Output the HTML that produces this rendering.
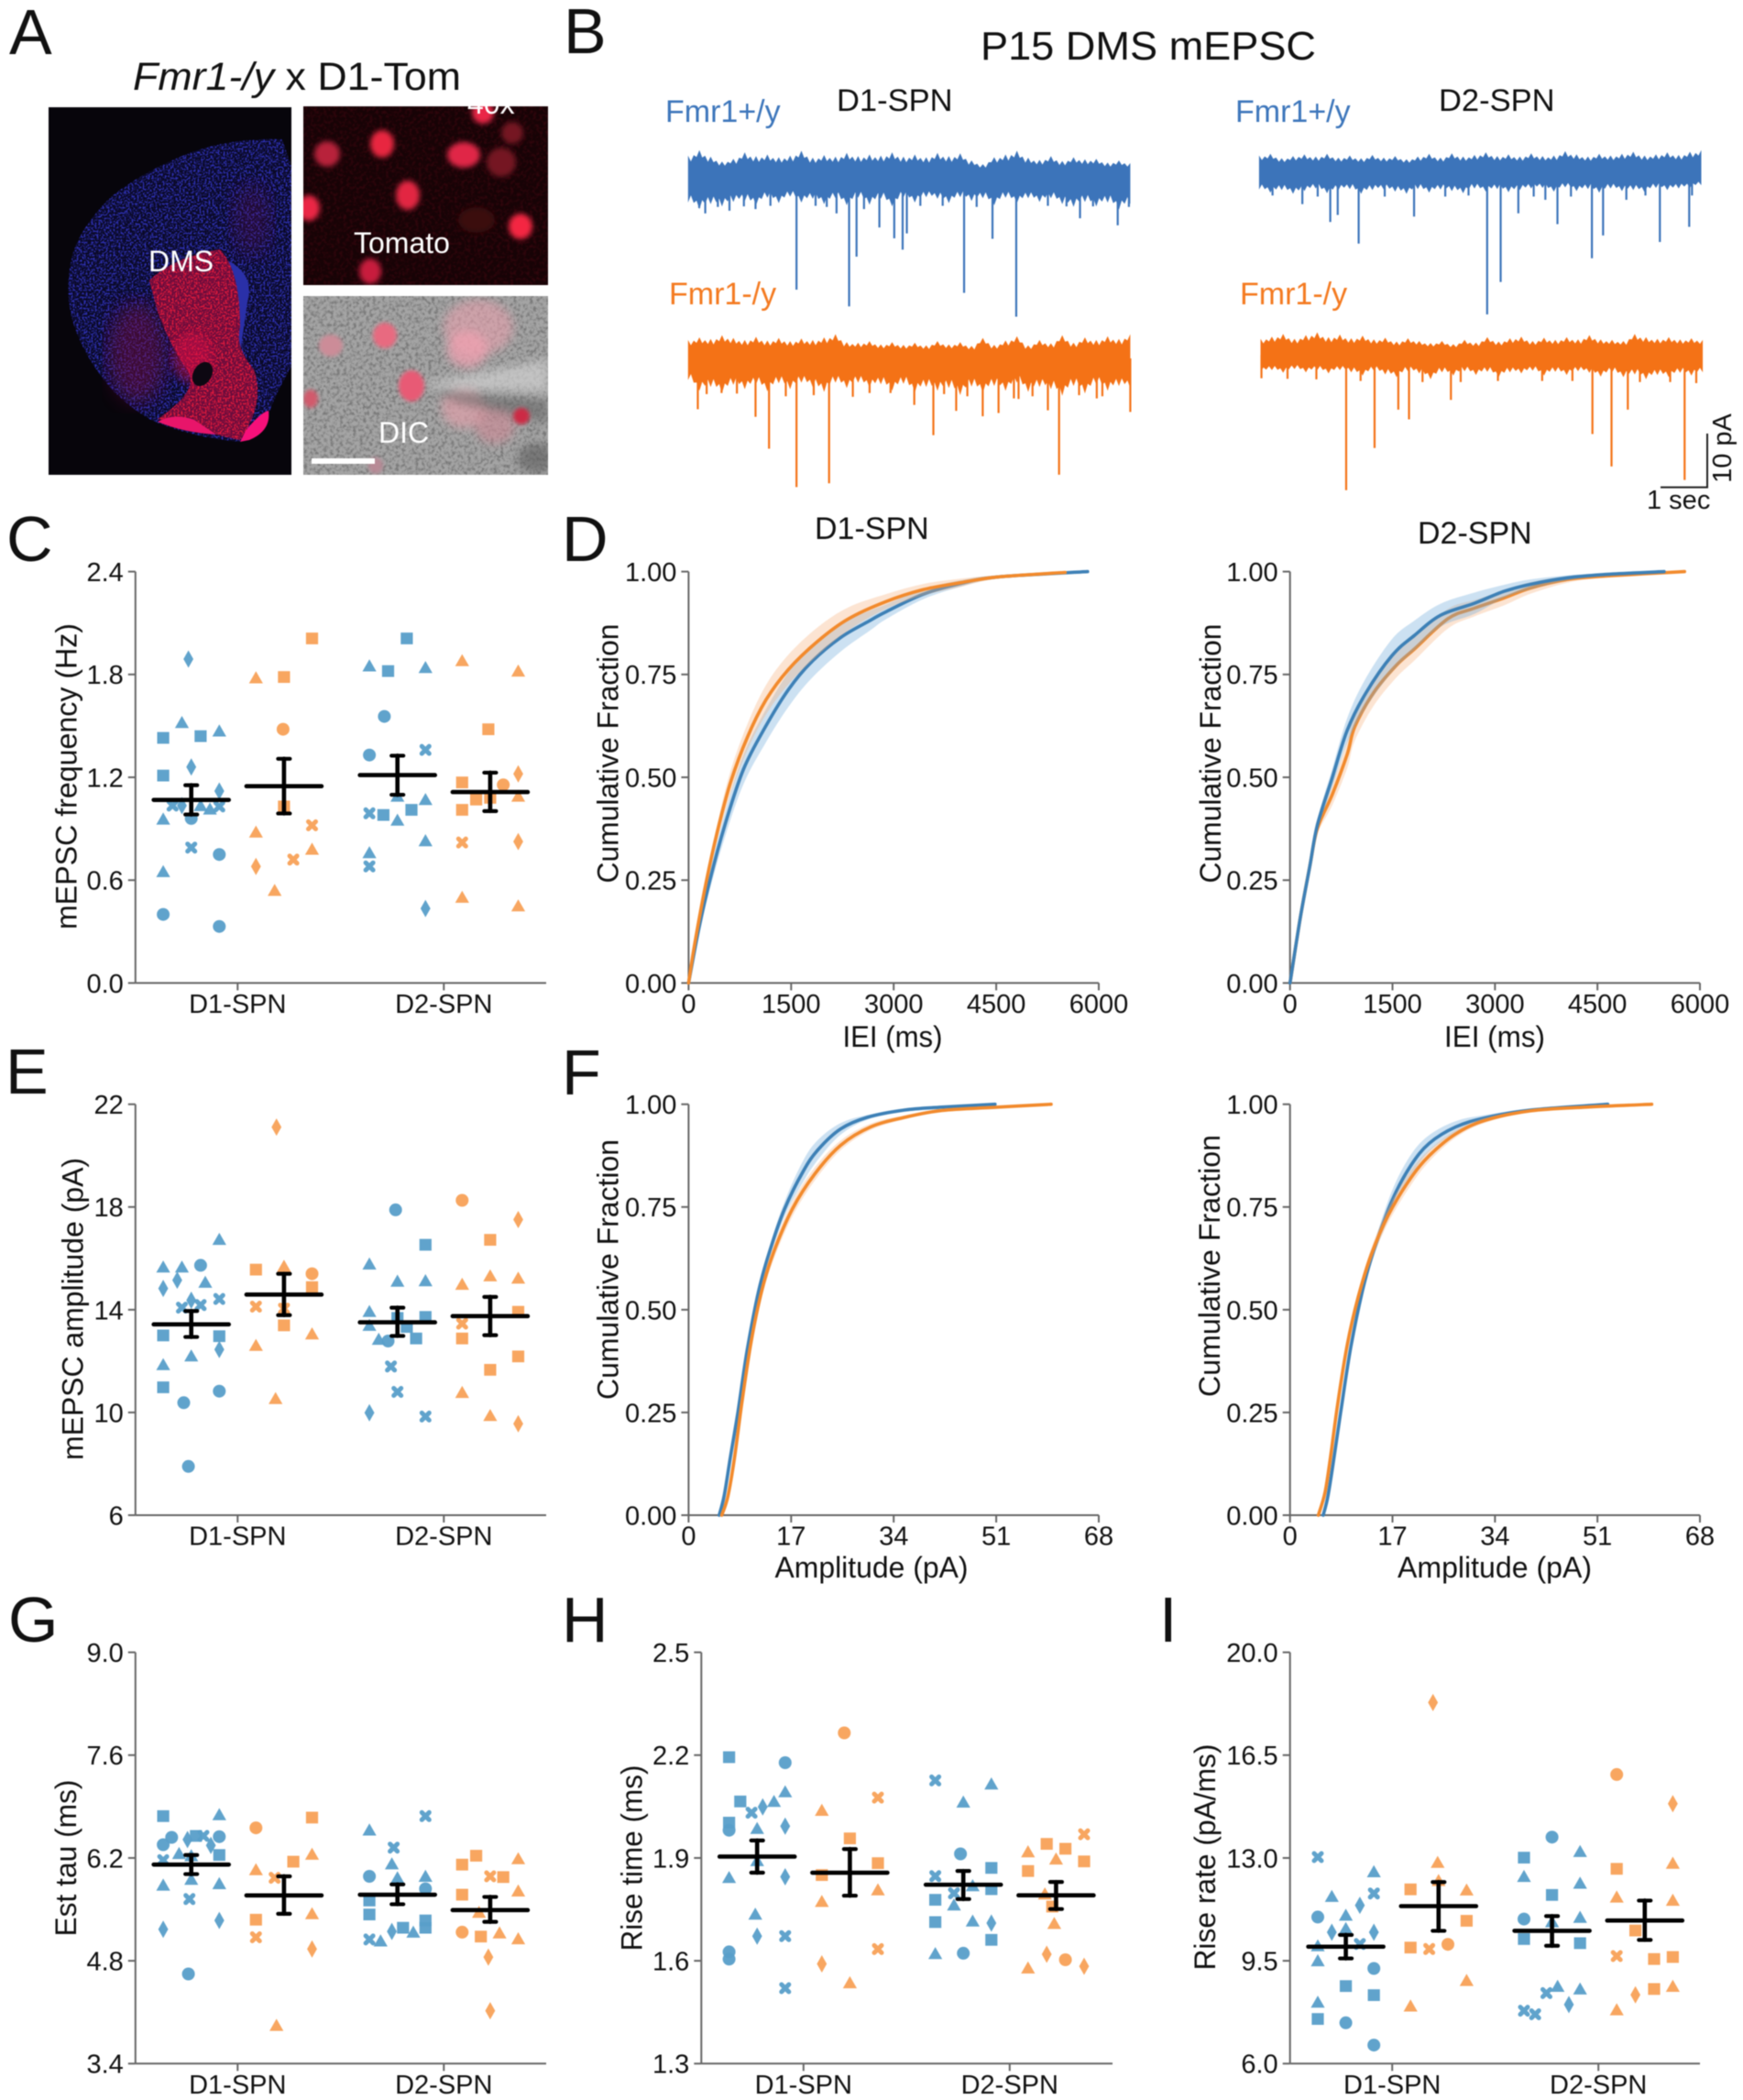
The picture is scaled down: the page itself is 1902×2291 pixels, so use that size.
<!DOCTYPE html>
<html lang="en">
<head>
<meta charset="utf-8">
<title>P15 DMS mEPSC figure</title>
<style>
html,body{margin:0;padding:0;background:#fff;}
#figure{display:block;width:1902px;height:2291px;font-family:"Liberation Sans",Arial,sans-serif;filter:blur(0.45px);}
text{font-family:"Liberation Sans",Arial,sans-serif;fill:#111;}
</style>
</head>
<body>
<svg id="figure" xmlns="http://www.w3.org/2000/svg" width="1902" height="2291" viewBox="0 0 1902 2291">
<defs>
<filter id="speck" x="0" y="0" width="100%" height="100%" color-interpolation-filters="sRGB">
<feTurbulence type="fractalNoise" baseFrequency="0.5" numOctaves="2" seed="4" result="n"/>
<feColorMatrix in="n" type="matrix" values="0 0 0 0 0  0 0 0 0 0  0 0 0 0 0  7 0 0 0 -3.4" result="a"/>
<feComposite in="SourceGraphic" in2="a" operator="in"/>
</filter>
<filter id="grain" x="0" y="0" width="100%" height="100%" color-interpolation-filters="sRGB">
<feTurbulence type="fractalNoise" baseFrequency="0.28" numOctaves="3" seed="9" result="n"/>
<feColorMatrix in="n" type="matrix" values="0 0 0 0 0  0 0 0 0 0  0 0 0 0 0  3 0 0 0 -1.3" result="a"/>
<feComposite in="SourceGraphic" in2="a" operator="in"/>
</filter>
<filter id="soft2"><feGaussianBlur stdDeviation="2"/></filter>
<filter id="soft3"><feGaussianBlur stdDeviation="3"/></filter>
<filter id="soft4"><feGaussianBlur stdDeviation="5"/></filter>
<filter id="soft10"><feGaussianBlur stdDeviation="10"/></filter>
<clipPath id="clip-section"><rect x="53" y="117" width="265" height="401"/></clipPath>
<clipPath id="clip-tomato"><rect x="331" y="116" width="267" height="195"/></clipPath>
<clipPath id="clip-dic"><rect x="331" y="323" width="267" height="195"/></clipPath>
</defs>

<g>
<text x="10" y="59" font-size="70">A</text>
<text x="615" y="58" font-size="70">B</text>
<text x="7" y="612" font-size="70">C</text>
<text x="613" y="612" font-size="70">D</text>
<text x="6" y="1193" font-size="70">E</text>
<text x="613" y="1194" font-size="70">F</text>
<text x="9" y="1791" font-size="70">G</text>
<text x="613" y="1791" font-size="70">H</text>
<text x="1265" y="1791" font-size="70">I</text>
</g>

<text x="145" y="98" font-size="43" textLength="358" lengthAdjust="spacingAndGlyphs"><tspan font-style="italic">Fmr1-/y</tspan> x D1-Tom</text>

<g clip-path="url(#clip-section)">
<rect x="53" y="117" width="265" height="401" fill="#07050b"/>
<path d="M308 152 Q250 150 204 168 Q155 188 122 214 Q90 245 80 275 Q70 310 78 345 Q88 385 122 425 Q150 452 171 461 Q215 478 261 482 Q285 478 292 455 Q300 430 318 400 L318 182 Z" fill="#0a0926"/>
<path d="M308 152 Q250 150 204 168 Q155 188 122 214 Q90 245 80 275 Q70 310 78 345 Q88 385 122 425 Q150 452 171 461 Q215 478 261 482 Q285 478 292 455 Q300 430 318 400 L318 182 Z" fill="#2d30b0" filter="url(#speck)"/>
<ellipse cx="150" cy="385" rx="32" ry="55" fill="#7a1040" opacity="0.45" filter="url(#soft10)"/>
<ellipse cx="275" cy="240" rx="22" ry="40" fill="#5a1050" opacity="0.3" filter="url(#soft10)"/>
<path d="M250 285 Q278 300 270 330 L262 385 L255 380 Q268 320 240 290 Z" fill="#2a30a8"/>
<path d="M163 306 Q190 280 240 272 Q262 295 262 357 Q256 378 277 403 Q290 440 262 480 Q215 470 172 457 Q220 425 204 403 Q186 378 172 340 Z" fill="#6a0c3c"/>
<path d="M163 306 Q190 280 240 272 Q262 295 262 357 Q256 378 277 403 Q290 440 262 480 Q215 470 172 457 Q220 425 204 403 Q186 378 172 340 Z" fill="#e01a3c" filter="url(#speck)"/>
<ellipse cx="210" cy="390" rx="22" ry="28" fill="#d8104a" opacity="0.45" filter="url(#soft4)"/>
<ellipse cx="221" cy="408" rx="10" ry="14" fill="#0d0812" transform="rotate(30 221 408)"/>
<path d="M172 460 Q190 450 212 458 L236 474 Q200 472 172 460 Z" fill="#e8156a"/>
<path d="M262 482 L268 470 Q284 450 293 448 Q296 470 272 480 Z" fill="#f6107a"/>
</g>

<g clip-path="url(#clip-tomato)">
<rect x="331" y="116" width="267" height="195" fill="#170306"/>
<rect x="331" y="116" width="267" height="195" fill="#4a0812" filter="url(#grain)" opacity=".5"/>
<g filter="url(#soft3)">
<ellipse cx="417" cy="157" rx="13" ry="15" fill="#e8283f"/>
<ellipse cx="357" cy="168" rx="14" ry="14" fill="#b8203a"/>
<ellipse cx="506" cy="169" rx="18" ry="14" fill="#e02846"/>
<ellipse cx="547" cy="177" rx="16" ry="16" fill="#741622"/>
<ellipse cx="559" cy="145" rx="12" ry="12" fill="#741622"/>
<ellipse cx="527" cy="123" rx="12" ry="12" fill="#ea2646"/>
<ellipse cx="445" cy="213" rx="13" ry="16" fill="#e22842"/>
<ellipse cx="337" cy="227" rx="12" ry="14" fill="#ea2844"/>
<ellipse cx="568" cy="247" rx="13" ry="14" fill="#f42842"/>
<ellipse cx="404" cy="296" rx="12" ry="14" fill="#c81f3c"/>
<ellipse cx="520" cy="240" rx="20" ry="14" fill="#3a0810"/>
</g>
<text x="510" y="124" font-size="32" style="fill:#fff">40x</text>
</g>
<text x="386" y="276" font-size="32" style="fill:#fff">Tomato</text>

<g clip-path="url(#clip-dic)">
<rect x="331" y="323" width="267" height="195" fill="#a4a4a4"/>
<rect x="331" y="323" width="267" height="195" fill="#666666" filter="url(#grain)" opacity=".7"/>
<g filter="url(#soft4)">
<ellipse cx="522" cy="357" rx="38" ry="30" fill="#e8a0ae" opacity=".6"/>
<ellipse cx="510" cy="381" rx="22" ry="20" fill="#f0a0b0" opacity=".75"/>
<ellipse cx="506" cy="445" rx="24" ry="22" fill="#e0a0aa" opacity=".7"/>
<ellipse cx="540" cy="464" rx="22" ry="20" fill="#d08a96" opacity=".6"/>
<polygon points="465,418 598,392 598,428 470,424" fill="#d0d0d0" opacity=".7"/>
<polygon points="465,424 598,436 598,462 500,440" fill="#686868" opacity=".6"/>
<ellipse cx="585" cy="500" rx="20" ry="16" fill="#5a5a5a" opacity=".6"/>
</g>
<g filter="url(#soft2)">
<ellipse cx="420" cy="366" rx="13" ry="14" fill="#e86a80"/>
<ellipse cx="361" cy="377" rx="13" ry="12" fill="#cc8c98"/>
<ellipse cx="449" cy="421" rx="14" ry="17" fill="#e85a74"/>
<ellipse cx="339" cy="435" rx="8" ry="10" fill="#d25a6c"/>
<ellipse cx="569" cy="454" rx="9" ry="9" fill="#cc2c44"/>
<ellipse cx="410" cy="508" rx="8" ry="9" fill="#b88a96"/>
</g>
<rect x="340" y="500" width="69" height="6" fill="#fff"/>
</g>
<text x="413" y="483" font-size="32" style="fill:#fff">DIC</text>
<text x="162" y="296" font-size="32" style="fill:#fff">DMS</text>

<text x="1070" y="65" font-size="44" textLength="366" lengthAdjust="spacingAndGlyphs">P15 DMS mEPSC</text>
<text x="913" y="121" font-size="34.5">D1-SPN</text>
<text x="1570" y="121" font-size="34.5">D2-SPN</text>
<text x="726" y="133" font-size="34" style="fill:#3d76bb">Fmr1+/y</text>
<text x="1348" y="133" font-size="34" style="fill:#3d76bb">Fmr1+/y</text>
<text x="730" y="332" font-size="34" style="fill:#f47a20">Fmr1-/y</text>
<text x="1353" y="332" font-size="34" style="fill:#f47a20">Fmr1-/y</text>
<text x="1797" y="555" font-size="29">1 sec</text>
<text transform="translate(1889 489) rotate(-90)" text-anchor="middle" font-size="29">10 pA</text>
<text x="889" y="588" font-size="34">D1-SPN</text>
<text x="1547" y="593" font-size="34">D2-SPN</text>
</svg>

<script>
/* ---------- shared categories ---------- */
const stripCategories = ['D1-SPN', 'D2-SPN'];
const genotypes = ['wt', 'ko'];

/* ---------- panel C: mEPSC frequency ([marker, jitter, value]) ---------- */
const freqTicks = [0, 0.6, 1.2, 1.8, 2.4];
const freqLabels = ['0.0', '0.6', '1.2', '1.8', '2.4'];
const freqD1Wt = [['d',-0.3,1.89],['t',-1,1.52],['s',-3,1.43],['s',1,1.44],['t',3,1.47],['d',0,1.26],['s',-3,1.21],['d',3,1.12],['x',-2,1.035],['d',-1,1.035],['t',1,1.035],['t',2,1.015],['x',3,1.03],['t',-3,0.956],['c',0,0.96],['x',0,0.79],['c',3,0.75],['t',-3,0.65],['c',-3,0.40],['c',3,0.33]];
const freqD1Ko = [['s',3,2.01],['s',0,1.785],['t',-3,1.78],['c',-0.1,1.48],['s',0,1.03],['x',3,0.92],['t',-3,0.88],['t',3,0.78],['x',1,0.72],['d',-3,0.68],['t',-1,0.54]];
const freqD2Wt = [['s',1,2.01],['t',-3,1.85],['t',3,1.84],['s',-1,1.82],['c',-1.4,1.555],['x',3,1.36],['c',-3,1.33],['t',0,1.09],['t',3,1.07],['x',-3,0.99],['s',-1.5,0.98],['s',1.5,1.01],['t',0,0.95],['t',3,0.83],['t',-3,0.76],['x',-3,0.68],['d',3,0.435]];
const freqD2Ko = [['t',-3,1.88],['t',3,1.82],['s',-0.2,1.48],['d',3,1.22],['s',-3,1.17],['c',1.4,1.156],['s',-1.5,1.07],['s',0,1.08],['t',3,1.09],['s',-3,1.01],['x',-3,0.82],['d',3,0.825],['t',-3,0.50],['t',3,0.45]];
const freqMeans = [1.068, 1.148, 1.213, 1.114];
const freqUpper = [1.154, 1.308, 1.326, 1.227];
const freqLower = [0.983, 0.989, 1.098, 1.003];

/* ---------- panel E: mEPSC amplitude ---------- */
const ampTicks = [6, 10, 14, 18, 22];
const ampLabels = ['6', '10', '14', '18', '22'];
const ampD1Wt = [['t',3,16.74],['t',-3,15.66],['t',-1,15.66],['c',1,15.73],['d',-1.5,15.15],['t',1.5,15.07],['d',-3,14.83],['d',0,14.37],['x',3,14.42],['x',1,14.18],['x',-1,14.08],['s',-3,13.0],['s',3,12.97],['d',3,12.45],['t',0,12.2],['t',-3,11.86],['s',-3,10.98],['c',3,10.83],['c',-0.8,10.38],['c',-0.3,7.9]];
const ampD1Ko = [['d',-0.8,21.11],['s',-3,15.56],['t',0,15.69],['c',3,15.4],['s',3,14.88],['x',-3,14.12],['x',0,14.04],['s',0,13.39],['t',3,13.06],['t',-3,12.61],['t',-0.9,10.54]];
const ampD2Wt = [['c',-0.2,17.89],['s',3,16.53],['t',-3,15.78],['t',0,15.11],['t',3,15.13],['t',-3,13.93],['s',3,13.72],['s',0,13.68],['t',-3,13.39],['s',1,13.33],['t',-2,12.85],['c',-1,12.78],['s',2,12.88],['x',-0.7,11.79],['x',0,10.8],['d',-3,9.99],['x',3,9.84]];
const ampD2Ko = [['c',-3,18.26],['d',3,17.51],['s',0,16.72],['t',0,15.32],['t',3,15.23],['t',-3,14.99],['s',3,13.92],['x',-3,13.46],['s',-3,12.88],['s',3,12.18],['s',0,11.66],['t',-3,10.78],['t',0,9.88],['d',3,9.56]];
const ampMeans = [13.43, 14.59, 13.51, 13.75];
const ampUpper = [13.95, 15.4, 14.08, 14.5];
const ampLower = [12.94, 13.79, 12.98, 13.01];

/* ---------- panel G: estimated tau ---------- */
const tauTicks = [3.4, 4.8, 6.2, 7.6, 9.0];
const tauLabels = ['3.4', '4.8', '6.2', '7.6', '9.0'];
const tauD1Wt = [['s',-3,6.77],['t',3,6.79],['s',0.5,6.5],['x',1.3,6.5],['c',-2.1,6.48],['c',3,6.49],['d',-0.4,6.45],['c',-3,6.38],['d',2.1,6.37],['t',-1.3,6.26],['s',3,6.24],['t',0,6.23],['x',-3,6.17],['t',0,5.91],['t',-3,5.83],['t',3,5.85],['x',-0.2,5.64],['d',3,5.35],['d',-3,5.23],['c',-0.3,4.62]];
const tauD1Ko = [['s',3,6.75],['c',-3,6.61],['t',3,6.25],['s',1,6.15],['t',-3,6.04],['x',-1,5.93],['t',3,5.44],['s',-3,5.36],['x',-3,5.12],['d',3,4.96],['t',-0.8,3.92]];
const tauD2Wt = [['x',3,6.77],['t',-3,6.58],['x',-0.4,6.34],['t',-0.6,6.12],['c',-3,5.95],['t',0,5.93],['t',3,5.95],['c',3,5.78],['s',-3,5.62],['s',-3,5.43],['s',3,5.35],['s',3,5.25],['s',0.6,5.25],['d',-0.6,5.2],['t',1.7,5.19],['x',-3,5.09],['t',-1.8,5.07]];
const tauD2Ko = [['t',3,6.19],['s',-1.5,6.23],['s',-3,6.11],['x',0,5.95],['s',1.4,5.94],['t',3,5.75],['s',-3,5.7],['t',-1.2,5.46],['c',-3,5.19],['t',1,5.18],['s',-1,5.13],['t',3,5.1],['d',-0.2,4.85],['d',0,4.12]];
const tauMeans = [6.11, 5.69, 5.70, 5.49];
const tauUpper = [6.24, 5.95, 5.84, 5.67];
const tauLower = [5.98, 5.44, 5.57, 5.33];

/* ---------- panel H: rise time ---------- */
const riseTicks = [1.3, 1.6, 1.9, 2.2, 2.5];
const riseLabels = ['1.3', '1.6', '1.9', '2.2', '2.5'];
const riseD1Wt = [['s',-3,2.194],['c',3,2.178],['t',3,2.093],['s',-1.8,2.065],['t',1.8,2.065],['d',0.6,2.049],['x',-0.6,2.032],['s',-3,2.003],['c',-3,1.981],['t',0,1.986],['d',3,1.993],['t',0,1.892],['t',-3,1.843],['d',3,1.845],['t',-0.2,1.736],['d',0,1.672],['x',3,1.672],['c',-3,1.626],['c',-3,1.605],['x',3,1.52]];
const riseD1Ko = [['c',-0.6,2.265],['x',3,2.076],['t',-3,2.039],['s',0,1.957],['s',3,1.885],['s',-3,1.85],['t',3,1.807],['t',-3,1.773],['x',3,1.634],['d',-3,1.591],['t',0,1.536]];
const riseD2Wt = [['x',-3,2.126],['t',3,2.116],['t',0,2.063],['c',-0.3,1.912],['s',3,1.871],['x',-3,1.847],['t',1,1.819],['s',3,1.809],['x',-1,1.797],['s',-3,1.778],['t',-1,1.763],['s',-3,1.713],['t',1,1.716],['d',3,1.71],['s',3,1.661],['t',-3,1.621],['c',0,1.622]];
const riseD2Ko = [['x',3,1.969],['s',-1,1.941],['s',1,1.927],['s',3,1.89],['t',-3,1.918],['t',0,1.897],['s',-3,1.862],['t',-1.2,1.795],['s',-0.4,1.758],['t',-0.2,1.709],['d',-1,1.619],['c',1,1.603],['d',3,1.584],['t',-3,1.579]];
const riseMeans = [1.904, 1.857, 1.822, 1.791];
const riseUpper = [1.951, 1.926, 1.862, 1.83];
const riseLower = [1.857, 1.79, 1.78, 1.751];

/* ---------- panel I: rise rate ---------- */
const rateTicks = [6.0, 9.5, 13.0, 16.5, 20.0];
const rateLabels = ['6.0', '9.5', '13.0', '16.5', '20.0'];
const rateD1Wt = [['x',-3,13.03],['t',3,12.53],['x',3,11.79],['t',-1.5,11.69],['d',1.5,11.39],['c',-3,10.99],['t',0,11.05],['t',0,10.6],['d',-1.5,10.47],['d',3,10.47],['x',1.5,10.07],['t',-3,10.01],['t',-3,9.5],['c',3,9.24],['s',0,8.64],['s',3,8.33],['t',-3,8.09],['s',-3,7.52],['c',0,7.39],['c',3,6.63]];
const rateD1Ko = [['d',-0.6,18.29],['t',-0.1,12.85],['t',0,12.23],['s',-3,11.93],['t',3,11.91],['s',3,10.86],['c',1,10.06],['s',-3,9.95],['x',-1,9.9],['t',3,8.83],['t',-3,7.96]];
const rateD2Wt = [['c',0,13.71],['t',3,13.22],['s',-3,13.01],['t',-3,12.37],['t',3,12.14],['s',0,11.74],['t',3,10.98],['c',-3,10.92],['t',0,10.83],['s',-3,10.24],['s',3,10.1],['t',0.6,8.63],['t',3,8.54],['x',-0.6,8.4],['d',1.8,8.01],['x',-3,7.8],['x',-1.8,7.68]];
const rateD2Ko = [['c',-3,15.84],['d',3,14.85],['t',3,12.82],['s',-3,12.63],['t',-3,11.67],['t',3,11.56],['s',-1,10.53],['s',3,9.63],['x',-3,9.66],['s',1,9.56],['s',1,8.54],['t',3,8.63],['d',-1,8.34],['t',-3,7.83]];
const rateMeans = [9.98, 11.36, 10.52, 10.87];
const rateUpper = [10.38, 12.18, 11.02, 11.55];
const rateLower = [9.58, 10.52, 10.01, 10.21];

/* ---------- cumulative panels ---------- */
const fracTicks = [0, 0.25, 0.5, 0.75, 1];
const fracLabels = ['0.00', '0.25', '0.50', '0.75', '1.00'];
const ieiTicks = [0, 1500, 3000, 4500, 6000];
const ieiLabels = ['0', '1500', '3000', '4500', '6000'];
const ampCdfTicks = [0, 17, 34, 51, 68];
const ampCdfLabels = ['0', '17', '34', '51', '68'];

const ieiD1WtX = [0,148,312,531,804,1132,1460,1789,2226,2664,2883,3430,3977,4524,5836];
const ieiD1WtY = [0,.13,.25,.384,.52,.625,.713,.779,.84,.882,.902,.945,.971,.987,1];
const ieiD1WtErr = [0,.012,.022,.03,.036,.04,.042,.04,.034,.024,.018,.012,.008,.004,0];
const ieiD1KoX = [0,93,257,421,613,859,1132,1460,1898,2336,2883,3430,3977,4524,5508];
const ieiD1KoY = [0,.098,.245,.368,.487,.597,.688,.762,.832,.885,.927,.956,.973,.987,.998];
const ieiD1KoErr = [0,.006,.014,.02,.028,.032,.036,.036,.034,.028,.018,.014,.01,.004,0];

const ieiD2WtX = [0,153,290,399,618,837,1110,1493,1821,2204,2697,3134,3517,4064,4611,5475];
const ieiD2WtY = [0,.161,.284,.383,.499,.614,.705,.796,.845,.894,.923,.952,.969,.985,.993,1];
const ieiD2WtErr = [0,.006,.01,.014,.022,.03,.036,.04,.036,.028,.026,.016,.012,.006,.003,0];
const ieiD2KoX = [0,153,290,399,618,837,946,1221,1549,1821,2315,2697,3134,3517,4064,4611,5775];
const ieiD2KoY = [0,.161,.284,.375,.458,.556,.622,.705,.771,.812,.886,.911,.936,.96,.981,.989,1];
const ieiD2KoErr = [0,.006,.01,.014,.026,.034,.034,.032,.03,.028,.024,.02,.018,.014,.008,.004,0];

const ampD1WtX = [5.08,5.9,6.9,8.2,9.7,11.6,13.5,15.9,19,21.5,25.2,29.6,35.8,42,50.8];
const ampD1WtY = [0,.047,.138,.253,.40,.545,.645,.745,.837,.89,.94,.968,.986,.993,1];
const ampD1WtErr = [0,.002,.004,.006,.008,.012,.014,.018,.026,.024,.014,.006,.004,.002,0];
const ampD1KoX = [5.5,6.5,7.6,8.8,10.4,12.2,14.1,17.2,20.9,25.2,30.2,35.8,42,51.3,60.1];
const ampD1KoY = [0,.045,.138,.27,.425,.55,.64,.745,.83,.9,.945,.968,.985,.993,1];
const ampD1KoErr = [0,.002,.005,.009,.014,.016,.018,.018,.016,.012,.008,.005,.003,.002,0];

const ampD2WtX = [5.5,6.3,7.3,8.6,10.1,12,13.8,16.9,20,23.1,27.5,32.4,39.9,52.7];
const ampD2WtY = [0,.047,.14,.27,.41,.545,.64,.765,.85,.905,.945,.967,.986,1];
const ampD2WtErr = [0,.002,.004,.006,.008,.01,.014,.024,.026,.02,.014,.007,.003,0];
const ampD2KoX = [4.7,5.8,6.7,7.9,9.5,11.3,13.5,16.3,20,23.1,27.5,32.4,39.9,49.2,60];
const ampD2KoY = [0,.055,.14,.27,.415,.53,.635,.73,.82,.875,.928,.961,.984,.993,1];
const ampD2KoErr = [0,.002,.004,.008,.012,.014,.016,.018,.018,.014,.009,.006,.003,.002,0];

/* ---------- panel B traces: noise envelope in pA, events [sec, pA] ---------- */
const traceD1WtTop = [3.9,4.9,3.7,2.8,3.3,4.5,3.8,4.1,3.6,3.9,4.8,3.5,4.0,3.7,4.4,3.8,4.1,3.9,4.5,3.7,4.1,3.6,4.4,3.8,4.3,3.0,2.3,3.6,4.1,4.8,3.5,3.1,3.8,2.9,3.6,3.2,3.3,2.6,3.0,2.5];
const traceD1WtBottom = [-4.8,-6.0,-5.1,-5.5,-4.7,-4.5,-5.3,-3.9,-4.9,-3.7,-4.8,-4.1,-5.1,-4.0,-5.3,-3.9,-5.2,-4.1,-5.5,-3.8,-4.8,-3.8,-4.1,-4.9,-3.8,-4.5,-4.0,-5.3,-3.9,-4.9,-4.0,-4.7,-4.0,-5.1,-5.6,-4.7,-5.5,-4.8,-6.1,-5.1];
const traceD1WtEvents = [[.37,-6.8],[.89,-6.3],[1.45,-6],[2.33,-20.9],[3.19,-6.8],[3.46,-24],[3.62,-14.8],[4.11,-9.4],[4.43,-11.4],[4.61,-13.5],[4.7,-10.5],[5.93,-21.5],[6.54,-11.5],[7.05,-25.9],[8.42,-7.7],[9.23,-9],[.24,-5.8],[.64,-5.6],[1.2,-5.5],[1.77,-5.4],[2.74,-5.4],[2.98,-5.6],[3.78,-6],[4.99,-5.4],[5.47,-5.4],[6.2,-5.6],[7.73,-5.4],[8.13,-5.5],[8.7,-5.5],[9.47,-5.6]];
const traceD2WtTop = [3.0,3.3,2.5,2.9,3.2,2.8,3.3,2.6,3.0,2.5,3.1,2.6,2.9,2.3,2.8,3.3,2.6,3.4,2.8,3.1,3.6,2.9,3.2,2.8,3.4,2.9,3.0,3.8,3.2,2.8,3.3,3.0,3.3,3.7,3.0,3.2,3.6,3.1,3.7,4.0];
const traceD2WtBottom = [-3.3,-3.9,-3.4,-4.1,-3.6,-3.1,-4.0,-3.4,-3.2,-4.1,-3.4,-3.3,-3.7,-4.1,-3.2,-3.9,-3.3,-3.6,-4.0,-3.1,-3.7,-3.2,-3.8,-3.4,-3.1,-3.0,-3.7,-2.9,-3.6,-3.2,-3.9,-3.1,-3.6,-3.4,-3.8,-3.0,-3.4,-3.1,-3.0,-2.5];
const traceD2WtEvents = [[.93,-6],[1.53,-9.3],[1.69,-8],[2.14,-13.3],[3.33,-8.3],[4.9,-26.4],[5.19,-20.4],[5.57,-7.7],[6.15,-5.2],[6.41,-9.7],[7.15,-16],[7.39,-11.8],[7.89,-5.2],[8.61,-13],[9.24,-10.2],[.29,-4.4],[1.26,-4.6],[2.7,-4.6],[4,-4.6],[4.5,-4.4],[5.9,-4.6],[6.7,-4.6],[8.3,-4.4],[9.3,-4.4]];
const traceKoD1Top = [3.4,3.9,3.6,4.3,3.8,3.4,4.0,3.3,3.8,3.2,3.7,3.4,3.9,4.5,3.0,2.9,3.2,2.6,3.0,2.5,2.9,2.4,3.2,2.6,3.0,2.3,3.8,2.5,3.3,4.1,2.4,3.4,2.8,4.3,2.9,3.9,3.4,4.1,3.6,4.5];
const traceKoD1Bottom = [-4.0,-6.0,-5.3,-6.4,-4.9,-5.7,-4.8,-6.1,-4.6,-5.7,-4.5,-5.3,-6.2,-4.5,-5.5,-4.5,-5.4,-4.8,-6.0,-4.7,-6.3,-5.3,-6.0,-5.5,-6.8,-5.2,-6.4,-5.1,-6.0,-4.5,-6.2,-5.3,-5.7,-6.9,-5.1,-6.5,-4.8,-6.0,-5.1,-5.5];
const traceKoD2Top = [3.0,3.4,3.9,3.0,3.7,4.2,3.3,3.8,3.1,3.6,2.9,3.2,2.5,3.1,2.6,2.2,2.6,2.0,2.8,2.3,3.3,2.5,3.1,3.4,2.6,3.2,2.8,3.3,2.9,3.7,2.9,2.8,2.6,3.9,3.3,3.0,3.3,2.9,3.1,2.8];
const traceKoD2Bottom = [-3.2,-2.8,-3.3,-2.6,-3.2,-2.8,-3.4,-2.8,-3.2,-3.8,-2.9,-3.6,-4.1,-3.0,-3.4,-4.5,-3.2,-3.8,-3.0,-3.7,-3.1,-4.1,-3.2,-3.4,-2.9,-3.8,-3.1,-3.7,-3.0,-3.3,-4.0,-3.2,-4.1,-3.6,-4.5,-3.7,-4.1,-3.3,-3.8,-3.2];
const traceKoD1Events = [[.21,-9.4],[1.45,-10.8],[1.74,-16.7],[2.33,-23.8],[3.03,-23.1],[3.54,-7.1],[4.86,-8.6],[5.27,-14.2],[5.76,-9.7],[6.33,-10.7],[6.67,-10.1],[7.0,-7.4],[7.73,-9.6],[7.97,-21.5],[8.78,-7.4],[9.5,-9.9],[.4,-6.6],[.72,-6.4],[1.05,-6.5],[2.1,-7],[2.7,-6.8],[3.9,-6.4],[4.35,-6.4],[5.5,-6.6],[6,-7],[7.1,-7.5],[7.4,-7],[8.4,-6.8],[8.9,-7]];
const traceKoD2Events = [[.02,-4.3],[1.84,-25],[2.45,-17.2],[2.96,-10.1],[3.19,-11.9],[4.09,-8.3],[7.13,-14.6],[7.54,-20.6],[7.89,-10.1],[9.11,-23.1],[9.36,-5.2],[.58,-4.4],[1.2,-4.5],[2.15,-4.8],[3.48,-5],[4.3,-5],[5.1,-4.8],[6.05,-4.8],[6.7,-4.8],[8.15,-5],[8.8,-5]];

/* ---------- style constants ---------- */
const NS = 'http://www.w3.org/2000/svg';
const root = document.getElementById('figure');
const BLUE = '#5a9fca';
const ORANGE = '#f8a25a';
const AXIS = '#666666';

function mk(tag, attrs, parent) {
  const e = document.createElementNS(NS, tag);
  for (const k in attrs) e.setAttribute(k, attrs[k]);
  (parent || root).appendChild(e);
  return e;
}
function linear(d0, d1, r0, r1) {
  return function (v) { return r0 + (v - d0) * (r1 - r0) / (d1 - d0); };
}
function smoothPath(pts, move) {
  let s = (move ? 'M' : 'L') + pts[0][0].toFixed(1) + ' ' + pts[0][1].toFixed(1);
  for (let i = 0; i < pts.length - 1; i++) {
    const p0 = pts[Math.max(0, i - 1)], p1 = pts[i], p2 = pts[i + 1], p3 = pts[Math.min(pts.length - 1, i + 2)];
    s += 'C' + (p1[0] + (p2[0] - p0[0]) / 6).toFixed(1) + ' ' + (p1[1] + (p2[1] - p0[1]) / 6).toFixed(1) + ' ' +
      (p2[0] - (p3[0] - p1[0]) / 6).toFixed(1) + ' ' + (p2[1] - (p3[1] - p1[1]) / 6).toFixed(1) + ' ' +
      p2[0].toFixed(1) + ' ' + p2[1].toFixed(1);
  }
  return s;
}

function drawAxes(panel, box, sy, yTicks, yLabels, xPositions, xLabels) {
  const g = mk('g', {});
  
  
  const yAxis = mk('line', { x1: box.left, x2: box.left, y1: box.top, y2: box.bottom, stroke: AXIS, 'stroke-width': 2 }, g);
  
  
  const xAxis = mk('line', { x1: box.left, x2: box.right, y1: box.bottom, y2: box.bottom, stroke: AXIS, 'stroke-width': 2 }, g);
  
  
  yTicks.forEach(function (t, i) {
    const y = sy(t);
    const tick = mk('line', { x1: box.left - 8, x2: box.left, y1: y, y2: y, stroke: AXIS, 'stroke-width': 2 }, g);
    
    
    const lab = mk('text', { x: box.left - 13, y: y + 10.4, 'text-anchor': 'end', 'font-size': 29 }, g);
    lab.textContent = yLabels[i];
    
    
  });
  xPositions.forEach(function (x, i) {
    const tick = mk('line', { x1: x, x2: x, y1: box.bottom, y2: box.bottom + 8, stroke: AXIS, 'stroke-width': 2 }, g);
    
    
    const lab = mk('text', { x: x, y: box.bottom + 32.5, 'text-anchor': 'middle', 'font-size': 29 }, g);
    lab.textContent = xLabels[i];
    
    
  });
}

function drawYTitle(panel, text, x, y, len) {
  const t = mk('text', { transform: 'translate(' + x + ' ' + y + ') rotate(-90)', 'text-anchor': 'middle', 'font-size': 32, textLength: len, lengthAdjust: 'spacingAndGlyphs' });
  t.textContent = text;
  
  
}
function drawXTitle(panel, text, x, y, len) {
  const t = mk('text', { x: x, y: y, 'text-anchor': 'middle', 'font-size': 32, textLength: len, lengthAdjust: 'spacingAndGlyphs' });
  t.textContent = text;
  
  
}

function drawMarker(kind, x, y, color, parent) {
  const g = mk('g', { transform: 'translate(' + x.toFixed(1) + ' ' + y.toFixed(1) + ')', opacity: 0.96 }, parent);
  if (kind === 's') mk('rect', { x: -6.6, y: -6.4, width: 13.2, height: 12.8, fill: color }, g);
  if (kind === 'c') mk('circle', { r: 7, fill: color }, g);
  if (kind === 't') mk('polygon', { points: '0,-7.2 7.6,6 -7.6,6', fill: color }, g);
  if (kind === 'd') mk('polygon', { points: '0,-9.5 5.4,0 0,9.5 -5.4,0', fill: color }, g);
  if (kind === 'x') mk('path', { d: 'M-4 -4L4 4M4 -4L-4 4', stroke: color, 'stroke-width': 5, 'stroke-linecap': 'round', fill: 'none' }, g);
  return g;
}

function drawStrip(panel, box, yTicks, yLabels, groups, means, upper, lower) {
  const sy = linear(yTicks[0], yTicks[yTicks.length - 1], box.bottom, box.top);
  const catX = function (i) { return box.left + 111.5 + i * 225; };
  drawAxes(panel, box, sy, yTicks, yLabels, stripCategories.map(function (c, i) { return catX(i); }), stripCategories);
  const marks = mk('g', {});
  
  
  groups.forEach(function (pts, gi) {
    const cat = Math.floor(gi / 2), geno = gi % 2;
    const cx = catX(cat) + (geno ? 50.6 : -50.6);
    const color = geno ? ORANGE : BLUE;
    pts.forEach(function (p) {
      const dot = drawMarker(p[0], cx + p[1] * 10.2, sy(p[2]), color, marks);
      
      
    });
  });
  means.forEach(function (m, gi) {
    const cat = Math.floor(gi / 2), geno = gi % 2;
    const cx = catX(cat) + (geno ? 50.6 : -50.6);
    const g = mk('g', { stroke: '#000', 'stroke-linecap': 'round', fill: 'none' });
    
    
    mk('line', { x1: cx - 41, x2: cx + 41, y1: sy(m), y2: sy(m), 'stroke-width': 4.6 }, g);
    mk('line', { x1: cx, x2: cx, y1: sy(upper[gi]), y2: sy(lower[gi]), 'stroke-width': 4.6 }, g);
    mk('line', { x1: cx - 6.5, x2: cx + 6.5, y1: sy(upper[gi]), y2: sy(upper[gi]), 'stroke-width': 4.2 }, g);
    mk('line', { x1: cx - 6.5, x2: cx + 6.5, y1: sy(lower[gi]), y2: sy(lower[gi]), 'stroke-width': 4.2 }, g);
  });
}

function drawCdfSeries(panel, sx, sy, xs, ys, errs, bandColor, lineColor, name) {
  const upper = xs.map(function (x, i) { return [sx(x), sy(Math.min(1, ys[i] + errs[i]))]; });
  const lower = xs.map(function (x, i) { return [sx(x), sy(Math.max(0, ys[i] - errs[i]))]; }).reverse();
  const band = mk('path', { d: smoothPath(upper, true) + smoothPath(lower, false) + 'Z', fill: bandColor, opacity: 0.34 });
  
  
  const line = mk('path', { d: smoothPath(xs.map(function (x, i) { return [sx(x), sy(ys[i])]; }), true), fill: 'none', stroke: lineColor, 'stroke-width': 3.6, 'stroke-linecap': 'round' });
  
  
}

function drawCdf(panel, box, xTicks, xLabels, wt, ko, koOnTop) {
  const sx = linear(xTicks[0], xTicks[xTicks.length - 1], box.left, box.right);
  const sy = linear(0, 1, box.bottom, box.top);
  drawAxes(panel, box, sy, fracTicks, fracLabels, xTicks.map(sx), xLabels);
  if (koOnTop) {
    drawCdfSeries(panel, sx, sy, wt[0], wt[1], wt[2], '#6aa8d8', '#3d80b6', 'wt');
    drawCdfSeries(panel, sx, sy, ko[0], ko[1], ko[2], '#f6b07a', '#f28a2c', 'ko');
  } else {
    drawCdfSeries(panel, sx, sy, ko[0], ko[1], ko[2], '#f6b07a', '#f28a2c', 'ko');
    drawCdfSeries(panel, sx, sy, wt[0], wt[1], wt[2], '#6aa8d8', '#3d80b6', 'wt');
  }
}

/* Each envelope sample draws a peak, a valley, a smaller peak and another valley, giving the noisy edge. */
function jaggedEdge(values, sx, sy) {
  const last = values.length - 1;
  const dt = 9.5 / last;
  const pts = [];
  values.forEach(function (v, i) {
    const t = i * dt;
    const next = i < last ? values[i + 1] : v;
    pts.push(sx(t).toFixed(1) + ',' + sy(v).toFixed(1));
    if (i < last) {
      pts.push(sx(t + dt * 0.25).toFixed(1) + ',' + sy(v * 0.72).toFixed(1));
      pts.push(sx(t + dt * 0.5).toFixed(1) + ',' + sy((v + next) * 0.45).toFixed(1));
      pts.push(sx(t + dt * 0.75).toFixed(1) + ',' + sy(next * 0.74).toFixed(1));
    }
  });
  return pts;
}

function drawTrace(name, x0, cy, top, bottom, events, color) {
  const sx = linear(0, 9.5, x0, x0 + 482.6);
  const sy = linear(0, 1, cy, cy - 5.9);
  const g = mk('g', {});
  
  
  const up = jaggedEdge(top, sx, sy);
  const dn = jaggedEdge(bottom, sx, sy).reverse();
  mk('polygon', { points: up.concat(dn).join(' '), fill: color }, g);
  events.forEach(function (ev) {
    const spike = mk('line', { x1: sx(ev[0]), x2: sx(ev[0]), y1: cy, y2: sy(ev[1]), stroke: color, 'stroke-width': 2.2 }, g);
    
    
  });
}

/* ---------- traces ---------- */
drawTrace('trace-d1-wt', 750.8, 192.7, traceD1WtTop, traceD1WtBottom, traceD1WtEvents, '#3c74ba');
drawTrace('trace-d2-wt', 1373.9, 187.3, traceD2WtTop, traceD2WtBottom, traceD2WtEvents, '#3c74ba');
drawTrace('trace-d1-ko', 750.8, 391, traceKoD1Top, traceKoD1Bottom, traceKoD1Events, '#f47216');
drawTrace('trace-d2-ko', 1375.5, 387.3, traceKoD2Top, traceKoD2Bottom, traceKoD2Events, '#f47216');
const scaleBarPath = mk('path', { d: 'M1812 531.6H1863V473', fill: 'none', stroke: '#222', 'stroke-width': 2 });



/* ---------- strip plots ---------- */
drawStrip('frequency', { left: 147.8, right: 596, top: 623.6, bottom: 1072.4 }, freqTicks, freqLabels, [freqD1Wt, freqD1Ko, freqD2Wt, freqD2Ko], freqMeans, freqUpper, freqLower);
drawYTitle('frequency', 'mEPSC frequency (Hz)', 83.6, 847, 334);
drawStrip('amplitude', { left: 147.8, right: 596, top: 1204.7, bottom: 1653 }, ampTicks, ampLabels, [ampD1Wt, ampD1Ko, ampD2Wt, ampD2Ko], ampMeans, ampUpper, ampLower);
drawYTitle('amplitude', 'mEPSC amplitude (pA)', 90.6, 1428, 330);
drawStrip('tau', { left: 147.8, right: 596, top: 1802.6, bottom: 2251.3 }, tauTicks, tauLabels, [tauD1Wt, tauD1Ko, tauD2Wt, tauD2Ko], tauMeans, tauUpper, tauLower);
drawYTitle('tau', 'Est tau (ms)', 83, 2027, 171);
drawStrip('rise-time', { left: 765.3, right: 1214, top: 1802.6, bottom: 2251.3 }, riseTicks, riseLabels, [riseD1Wt, riseD1Ko, riseD2Wt, riseD2Ko], riseMeans, riseUpper, riseLower);
drawYTitle('rise-time', 'Rise time (ms)', 700.4, 2027, 203);
drawStrip('rise-rate', { left: 1407.7, right: 1855, top: 1802.6, bottom: 2251.3 }, rateTicks, rateLabels, [rateD1Wt, rateD1Ko, rateD2Wt, rateD2Ko], rateMeans, rateUpper, rateLower);
drawYTitle('rise-rate', 'Rise rate (pA/ms)', 1326, 2026, 247);

/* ---------- cumulative plots ---------- */
drawCdf('iei-d1', { left: 751.4, right: 1199, top: 623.6, bottom: 1072.4 }, ieiTicks, ieiLabels, [ieiD1WtX, ieiD1WtY, ieiD1WtErr], [ieiD1KoX, ieiD1KoY, ieiD1KoErr], true);
drawYTitle('iei-d1', 'Cumulative Fraction', 674.7, 822, 283);
drawXTitle('iei-d1', 'IEI (ms)', 974, 1142, 109);
drawCdf('iei-d2', { left: 1407.7, right: 1855, top: 623.6, bottom: 1072.4 }, ieiTicks, ieiLabels, [ieiD2WtX, ieiD2WtY, ieiD2WtErr], [ieiD2KoX, ieiD2KoY, ieiD2KoErr], false);
drawYTitle('iei-d2', 'Cumulative Fraction', 1332, 822, 283);
drawXTitle('iei-d2', 'IEI (ms)', 1631, 1142, 110);
drawCdf('amp-d1', { left: 751.4, right: 1199, top: 1204.7, bottom: 1653 }, ampCdfTicks, ampCdfLabels, [ampD1WtX, ampD1WtY, ampD1WtErr], [ampD1KoX, ampD1KoY, ampD1KoErr], true);
drawYTitle('amp-d1', 'Cumulative Fraction', 674.7, 1385, 284);
drawXTitle('amp-d1', 'Amplitude (pA)', 951, 1721, 211);
drawCdf('amp-d2', { left: 1407.7, right: 1855, top: 1204.7, bottom: 1653 }, ampCdfTicks, ampCdfLabels, [ampD2WtX, ampD2WtY, ampD2WtErr], [ampD2KoX, ampD2KoY, ampD2KoErr], true);
drawYTitle('amp-d2', 'Cumulative Fraction', 1331, 1381, 286);
drawXTitle('amp-d2', 'Amplitude (pA)', 1631, 1721, 212);
</script>
</body>
</html>
